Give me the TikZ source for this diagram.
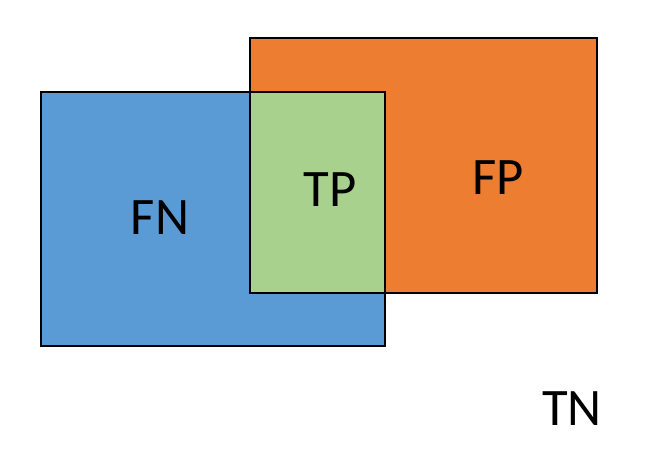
\documentclass[tikz,border=0pt]{standalone}
\usepackage{fontspec}
\setmainfont{Carlito}
\usetikzlibrary{positioning}
\definecolor{SetBlue}{HTML}{5B9BD5}
\definecolor{SetOrange}{HTML}{ED7D31}
\definecolor{SetGreen}{HTML}{A9D18E}

\begin{document}
\begin{tikzpicture}[
        x=0.02cm, y=-0.02cm,
        region/.style={draw=black, line width=0.9pt},
        label/.style={font=\fontsize{30}{36}\selectfont, text=black, inner sep=0pt}
    ]
    \useasboundingbox (0,0) rectangle (662,462);

    % Sets
    \draw [region, fill=SetBlue] (41,92) rectangle (385,346);
    \draw [region, fill=SetOrange] (250,38) rectangle (597,293);
    \draw [region, fill=SetGreen] (250,92) rectangle (385,293);

    % Labels
    \node (fn) [label] at (160,218) {FN};
    \node (tp) [label] at (330,190) {TP};
    \node (fp) [label] at (498,178) {FP};
    \node (tn) [label] at (572,409) {TN};
\end{tikzpicture}
\end{document}
